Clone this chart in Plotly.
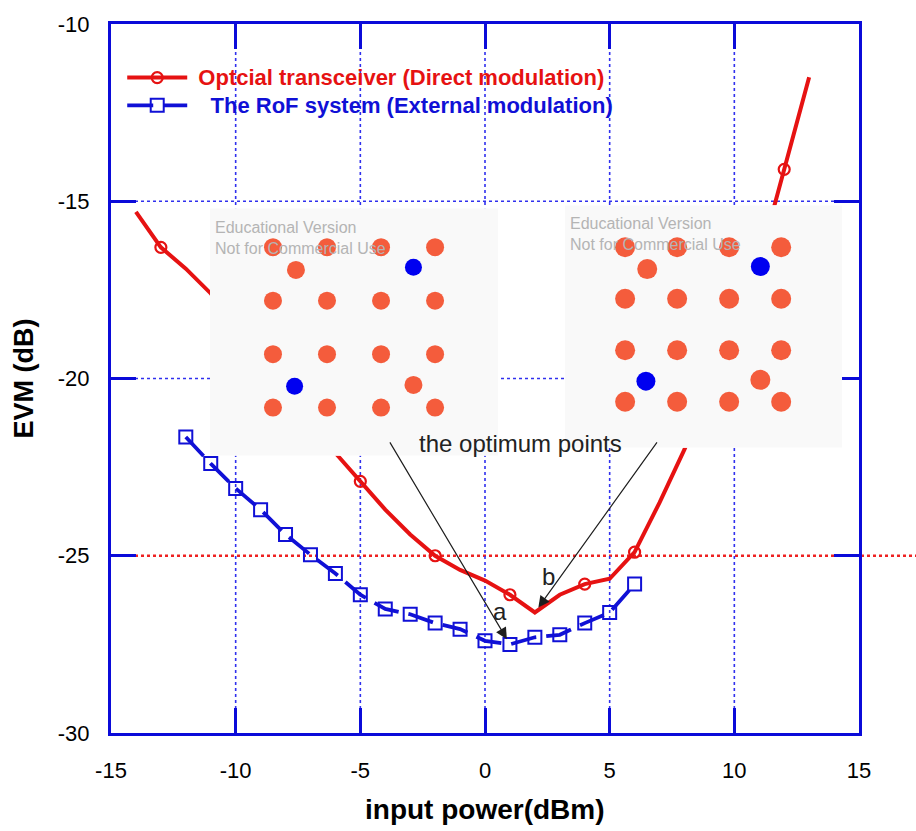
import plotly.graph_objects as go

# ---- EVM curves -----------------------------------------------------------
# Optical transceiver, direct modulation (red)
red_x = [-14, -13, -12, -11, -10, -9, -8, -7, -6, -5, -4, -3, -2, -1, 0,
         1, 2, 3, 4, 5, 6, 7, 8, 9, 10, 11, 12, 13]
red_y = [-15.3, -16.3, -16.9, -17.6, -18.6, -19.5, -20.4, -21.3, -22.1, -22.9,
         -23.7, -24.4, -25.0, -25.4, -25.7, -26.1, -26.6, -26.1, -25.8, -25.65,
         -24.9, -23.5, -22.0, -20.3, -18.6, -16.7, -14.1, -11.5]
red_marked_x = [-13, -5, -2, 1, 4, 6, 12]

# RoF system, external modulation (blue)
blue_x = [-12, -11, -10, -9, -8, -7, -6, -5, -4, -3, -2, -1, 0, 1, 2, 3, 4, 5, 6]
blue_y = [-21.65, -22.4, -23.1, -23.7, -24.4, -24.97, -25.5, -26.1, -26.5, -26.65,
          -26.9, -27.07, -27.4, -27.5, -27.3, -27.23, -26.9, -26.6, -25.8]

x_ticks = [-15, -10, -5, 0, 5, 10, 15]
x_tick_labels = ["-15", "-10", "-5", "0", "5", "10", "15"]
y_ticks = [-30, -25, -20, -15, -10]
y_tick_labels = ["-30", "-25", "-20", "-15", "-10"]
evm_limit = -25

# ---- 16-QAM constellations shown in the two insets -------------------------
qam_levels = [-3, -1, 1, 3]
pilot_blue_i = [2.2, -2.2]
pilot_blue_q = [2.25, -2.2]
pilot_orange_i = [-2.15, 2.2]
pilot_orange_q = [2.15, -2.15]

RED = "#e61212"
BLUE = "#1010d6"
FRAME = "#0b0bd9"
GRID = "#3030ee"
ORANGE = "#f45c3c"
DOT_BLUE = "#0000f0"
FONT = "Liberation Sans, Arial, sans-serif"
NB = "\u00a0"

fig = go.Figure()

red_sel = [i for i, v in enumerate(red_x) if v in red_marked_x]
fig.add_trace(go.Scatter(
    x=red_x, y=red_y, mode="lines+markers",
    name=f"<b><span style='color:{RED};font-size:22px'>{NB}Optcial transceiver (Direct modulation)</span></b>",
    line=dict(color=RED, width=4),
    marker=dict(symbol="circle-open", size=11, color=RED, line=dict(width=2.2)),
    selectedpoints=red_sel,
    selected=dict(marker=dict(opacity=1)),
    unselected=dict(marker=dict(opacity=0)),
))
fig.add_trace(go.Scatter(
    x=blue_x, y=blue_y, mode="lines+markers",
    name=f"<b><span style='color:{BLUE};font-size:22px'>{NB*3}The RoF system (External modulation)</span></b>",
    line=dict(color=BLUE, width=3.8, dash="26px,10px"),
    marker=dict(symbol="square-open", size=13, color=BLUE, line=dict(width=2)),
))

# ---- insets ---------------------------------------------------------------
grid_i = [i for q in qam_levels for i in qam_levels]
grid_q = [q for q in qam_levels for i in qam_levels]

insets = [
    dict(ax="x2", ay="y2", xr=[-5.33, 5.33], yr=[-4.80, 4.46], dot=18),
    dict(ax="x3", ay="y3", xr=[-5.31, 5.34], yr=[-4.79, 4.63], dot=20),
]
for ins in insets:
    x0, x1 = ins["xr"]
    y0, y1 = ins["yr"]
    fig.add_trace(go.Scatter(
        x=[x0, x1, x1, x0, x0], y=[y0, y0, y1, y1, y0], mode="lines",
        fill="toself", fillcolor="#f9f9f9", line=dict(width=0),
        xaxis=ins["ax"], yaxis=ins["ay"], showlegend=False, hoverinfo="skip"))
    fig.add_trace(go.Scatter(
        x=grid_i + pilot_orange_i, y=grid_q + pilot_orange_q, mode="markers",
        marker=dict(size=ins["dot"], color=ORANGE),
        xaxis=ins["ax"], yaxis=ins["ay"], showlegend=False))
    fig.add_trace(go.Scatter(
        x=pilot_blue_i, y=pilot_blue_q, mode="markers",
        marker=dict(size=ins["dot"] - 1, color=DOT_BLUE),
        xaxis=ins["ax"], yaxis=ins["ay"], showlegend=False))
    fig.add_annotation(
        xref=f"{ins['ax']} domain", yref=f"{ins['ay']} domain", x=0.01, y=0.88,
        xanchor="left", yanchor="middle", showarrow=False, align="left",
        text="Educational Version<br>Not for Commercial Use",
        font=dict(family=FONT, size=16, color="#b4b4b4"))

# ---- grid lines and EVM limit --------------------------------------------
for v in x_ticks[1:-1]:
    fig.add_shape(type="line", xref="x", yref="y", x0=v, x1=v, y0=y_ticks[0], y1=y_ticks[-1],
                  line=dict(color=GRID, width=1.6, dash="dot"), layer="below")
for v in y_ticks[1:-1]:
    if v == evm_limit:
        continue
    fig.add_shape(type="line", xref="x", yref="y", x0=x_ticks[0], x1=x_ticks[-1], y0=v, y1=v,
                  line=dict(color=GRID, width=1.6, dash="dot"), layer="below")
fig.add_shape(type="line", xref="paper", yref="y", x0=0, x1=(916 - 111) / 748,
              y0=evm_limit, y1=evm_limit, line=dict(color="#ee2222", width=2.4, dash="dot"),
              layer="below")

# ---- optimum-point callouts ------------------------------------------------
ia = blue_y.index(min(blue_y))
ib = red_y.index(min(red_y))
for hx, hy, tail_x in [(blue_x[ia], blue_y[ia], -3.85), (red_x[ib], red_y[ib], 6.94)]:
    fig.add_annotation(x=hx, y=hy, ax=tail_x, ay=-21.76, axref="x", ayref="y",
                       xref="x", yref="y", text="", showarrow=True,
                       arrowhead=2, arrowsize=1.9, arrowwidth=1.2, arrowcolor="#1e1e1e",
                       standoff=6)
fig.add_annotation(x=1.44, y=-21.84, text="the optimum points", showarrow=False,
                   font=dict(family=FONT, size=24, color="#222222"))
fig.add_annotation(x=0.6, y=-26.56, text="a", showarrow=False,
                   font=dict(family=FONT, size=24, color="#222222"))
fig.add_annotation(x=2.53, y=-25.59, text="b", showarrow=False,
                   font=dict(family=FONT, size=24, color="#222222"))

# ---- axis titles ----------------------------------------------------------
fig.add_annotation(xref="paper", yref="paper", x=0.5, y=-0.1075, text="<b>input power(dBm)</b>",
                   showarrow=False, yanchor="middle",
                   font=dict(family=FONT, size=28, color="black"))
fig.add_annotation(xref="paper", yref="paper", x=-0.1176, y=0.5, text="<b>EVM (dB)</b>",
                   showarrow=False, textangle=-90, xanchor="center",
                   font=dict(family=FONT, size=27, color="black"))

axis_common = dict(
    ticks="inside", ticklen=25, tickwidth=3, tickcolor=FRAME,
    showline=True, linewidth=3, linecolor=FRAME, mirror="allticks",
    showgrid=False, zeroline=False,
    tickfont=dict(family=FONT, size=22, color="black"),
)

fig.update_layout(
    width=916, height=831,
    margin=dict(l=111, r=57, t=17, b=98, pad=0),
    paper_bgcolor="white", plot_bgcolor="white",
    showlegend=True,
    legend=dict(x=0.015, y=0.951, xanchor="left", yanchor="top",
                bgcolor="rgba(0,0,0,0)", itemwidth=60, tracegroupgap=0,
                font=dict(family=FONT, size=19)),
    xaxis=dict(range=[x_ticks[0], x_ticks[-1]], tickvals=x_ticks, ticktext=x_tick_labels,
               ticklabelstandoff=16, **axis_common),
    yaxis=dict(range=[y_ticks[0], y_ticks[-1]], tickvals=y_ticks, ticktext=y_tick_labels,
               ticklabelstandoff=14, **axis_common),
    xaxis2=dict(domain=[0.1324, 0.5174], range=insets[0]["xr"], visible=False, anchor="y2"),
    yaxis2=dict(domain=[0.3911, 0.7402], range=insets[0]["yr"], visible=False, anchor="x2"),
    xaxis3=dict(domain=[0.607, 0.9773], range=insets[1]["xr"], visible=False, anchor="y3"),
    yaxis3=dict(domain=[0.4022, 0.7444], range=insets[1]["yr"], visible=False, anchor="x3"),
)

fig.write_html("out.html")
